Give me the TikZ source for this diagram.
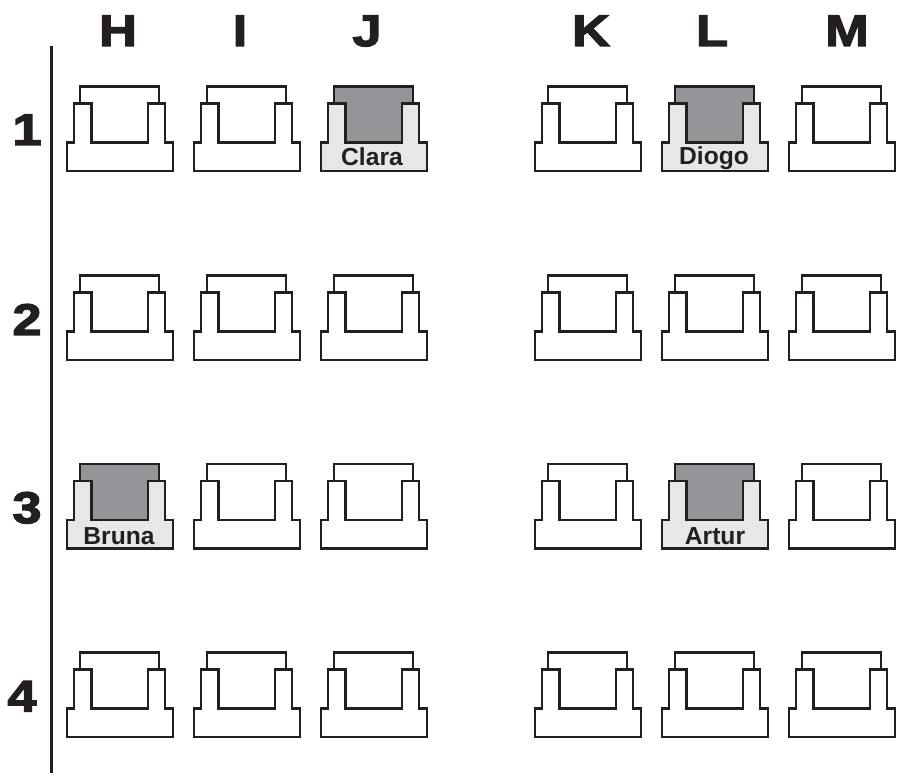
\documentclass[tikz,border=0pt]{standalone}
\usepackage{fontspec}
\setmainfont{Liberation Sans}
\newfontface\headfont[FakeBold=3,FakeStretch=1.18]{Liberation Sans Bold}
\definecolor{seatink}{HTML}{231F20}
\definecolor{seatdark}{HTML}{939598}
\definecolor{seatlight}{HTML}{E6E7E8}
\tikzset{
  seatline/.style={draw=seatink,line width=0.6pt,line join=miter},
  axisline/.style={draw=seatink,line width=0.95pt},
  headlabel/.style={text=seatink,font=\headfont\fontsize{12.6}{14}\selectfont,inner sep=0pt,anchor=base},
  seatname/.style={text=seatink,font=\bfseries\fontsize{7}{8}\selectfont,inner sep=0pt,anchor=base},
}
\newcommand{\seatshape}[4]{%
  \begin{scope}[shift={(#1,#2)}]
    \path[fill=#4] (13,0) rectangle (92,56);
    \draw[seatline] (13,17) -- (13,0) -- (92,0) -- (92,17);
    \draw[seatline,fill=#3] (0,56) -- (7,56) -- (7,17) -- (24.5,17) -- (24.5,56) -- (81,56)
      -- (81,17) -- (98,17) -- (98,56) -- (106,56) -- (106,84.5) -- (0,84.5) -- cycle;
  \end{scope}
}
\begin{document}
\begin{tikzpicture}[x=0.01cm,y=-0.01cm]
\useasboundingbox (0,0) rectangle (899,773);

\coordinate (axistop) at (51.5,46);
\coordinate (axisbottom) at (51.5,773);
\draw[axisline] (axistop) -- (axisbottom);

% seats
\foreach \x in {67,194,321,535,662,789}{
  \foreach \y in {86.5,275.5,464,652.5}{
    \seatshape{\x}{\y}{white}{white}
  }
}
\seatshape{321}{86.5}{seatlight}{seatdark}
\seatshape{662}{86.5}{seatlight}{seatdark}
\seatshape{67}{464}{seatlight}{seatdark}
\seatshape{662}{464}{seatlight}{seatdark}

% columns
\foreach \name/\x in {H/118,I/240,J/367,K/591,L/712,M/847}{
  \node[headlabel] (col\name) at (\x,46) {\name};
}
% rows
\foreach \name/\x/\y in {1/27/145,2/27/335,3/27/523,4/22/711.5}{
  \node[headlabel] (row\name) at (\x,\y) {\name};
}

\node[seatname] (clara) at (372,166) {Clara};
\node[seatname] (diogo) at (714,165) {Diogo};
\node[seatname] (bruna) at (119,545) {Bruna};
\node[seatname] (artur) at (715,545) {Artur};
\end{tikzpicture}
\end{document}
